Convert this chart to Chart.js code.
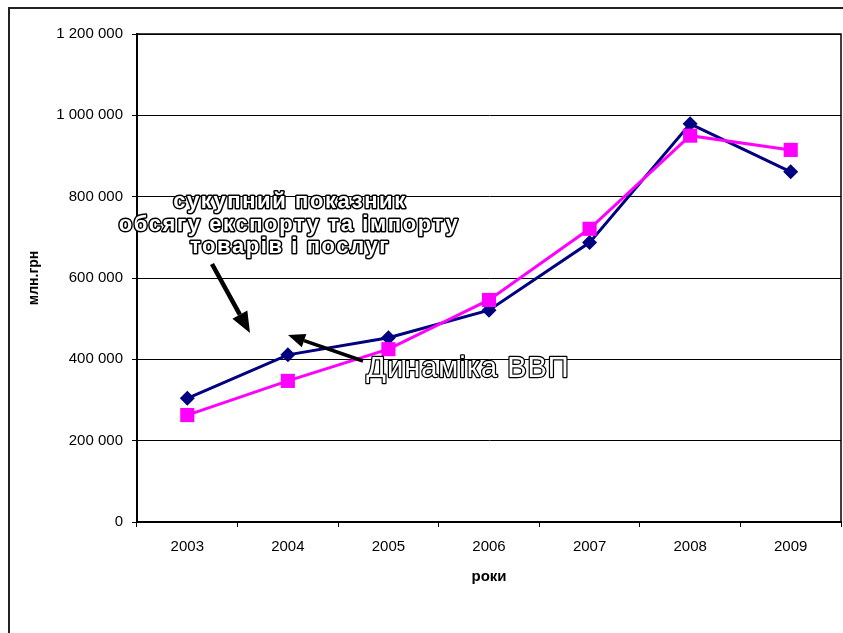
<!DOCTYPE html>
<html>
<head>
<meta charset="utf-8">
<script src="https://cdn.jsdelivr.net/npm/chart.js@4/dist/chart.umd.min.js"></script>
<style>
  html, body { margin: 0; padding: 0; background: #fff; }
  canvas { display: block; }
</style>
</head>
<body>
<canvas id="chart" width="843" height="633"></canvas>
<script>
var years = ['2003', '2004', '2005', '2006', '2007', '2008', '2009']
// navy diamonds
var gdpValues = [304000, 411000, 453000, 521000, 687000, 979000, 861000]
// magenta squares
var tradeValues = [263000, 347000, 425000, 546000, 721000, 950000, 915000]
var yTicks = [0, 200000, 400000, 600000, 800000, 1000000, 1200000]

var FONT = '"Liberation Sans", Arial, sans-serif'

function fmt(v) {
  return String(v).replace(/\B(?=(\d{3})+(?!\d))/g, ' ')
}

function arrow(ctx, x1, y1, x2, y2, lw, headLen, headW) {
  var ang = Math.atan2(y2 - y1, x2 - x1)
  var bx = x2 - Math.cos(ang) * headLen
  var by = y2 - Math.sin(ang) * headLen
  ctx.save()
  ctx.strokeStyle = '#000'
  ctx.fillStyle = '#000'
  ctx.lineWidth = lw
  ctx.beginPath()
  ctx.moveTo(x1, y1)
  ctx.lineTo(bx, by)
  ctx.stroke()
  ctx.beginPath()
  ctx.moveTo(x2, y2)
  ctx.lineTo(bx + Math.sin(ang) * headW / 2, by - Math.cos(ang) * headW / 2)
  ctx.lineTo(bx - Math.sin(ang) * headW / 2, by + Math.cos(ang) * headW / 2)
  ctx.closePath()
  ctx.fill()
  ctx.restore()
}

function outlined(ctx, text, x, y, font, lw, spacing) {
  ctx.save()
  ctx.font = font
  ctx.letterSpacing = spacing + 'px'
  ctx.textAlign = 'center'
  ctx.textBaseline = 'alphabetic'
  ctx.lineJoin = 'round'
  ctx.lineWidth = lw
  ctx.strokeStyle = '#000'
  ctx.strokeText(text, x, y)
  ctx.fillStyle = '#fff'
  ctx.fillText(text, x, y)
  ctx.restore()
}

var decorations = {
  id: 'decorations',
  afterDraw(chart) {
    var ctx = chart.ctx
    var a = chart.chartArea
    ctx.save()
    // outer frame
    ctx.strokeStyle = '#222'
    ctx.lineWidth = 2
    ctx.beginPath()
    ctx.moveTo(9, 633)
    ctx.lineTo(9, 8)
    ctx.lineTo(843, 8)
    ctx.stroke()
    // plot area top / right border
    ctx.strokeStyle = '#000'
    ctx.lineWidth = 1.5
    ctx.beginPath()
    ctx.moveTo(a.left, a.top)
    ctx.lineTo(a.right, a.top)
    ctx.lineTo(a.right, a.bottom)
    ctx.stroke()
    ctx.restore()

    arrow(ctx, 212, 264, 250, 333, 4.5, 21, 17)
    arrow(ctx, 363, 361, 288, 335, 3.5, 17, 14)

    var bold = 'bold 22px ' + FONT
    outlined(ctx, 'сукупний показник', 290, 208, bold, 3, 1.6)
    outlined(ctx, 'обсягу експорту та імпорту', 289, 231, bold, 3, 1.6)
    outlined(ctx, 'товарів і послуг', 290, 253, bold, 3, 1.6)
    outlined(ctx, 'Динаміка ВВП', 468, 377, '29px ' + FONT, 2.5, 1)
  }
}

new Chart(document.getElementById('chart'), {
  type: 'line',
  data: {
    labels: years,
    datasets: [
      {
        label: 'ВВП',
        data: gdpValues,
        borderColor: '#000080',
        backgroundColor: '#000080',
        borderWidth: 3,
        pointStyle: 'rectRot',
        pointRadius: 7.5,
        pointBorderWidth: 0,
        tension: 0,
        order: 1
      },
      {
        label: 'експорт та імпорт',
        data: tradeValues,
        borderColor: '#ff00ff',
        backgroundColor: '#ff00ff',
        borderWidth: 3,
        pointStyle: 'rect',
        pointRadius: 10,
        pointBorderWidth: 0,
        tension: 0,
        order: 0
      }
    ]
  },
  options: {
    responsive: false,
    animation: false,
    devicePixelRatio: 1,
    layout: { autoPadding: false, padding: { left: 20, top: 34, right: 2, bottom: 0 } },
    plugins: {
      legend: { display: false },
      tooltip: { enabled: false }
    },
    scales: {
      x: {
        offset: true,
        grid: {
          offset: true,
          drawOnChartArea: false,
          drawTicks: true,
          tickLength: 5,
          tickColor: '#000',
          tickWidth: 1
        },
        border: { color: '#000', width: 2 },
        ticks: {
          color: '#000',
          padding: 11,
          maxRotation: 0,
          font: { family: FONT, size: 15 }
        },
        title: {
          display: true,
          text: 'роки',
          color: '#000',
          font: { family: FONT, size: 15, weight: 'bold' },
          padding: { top: 0, bottom: 47 }
        },
        afterFit(scale) {
          scale.height = 111
          scale.paddingLeft = 0
          scale.paddingRight = 0
        }
      },
      y: {
        min: 0,
        max: 1200000,
        afterBuildTicks(scale) {
          scale.ticks = yTicks.map(function (v) { return { value: v } })
        },
        grid: {
          color: '#000',
          lineWidth: 1,
          tickLength: 5,
          tickColor: '#000'
        },
        border: { color: '#000', width: 2 },
        ticks: {
          color: '#000',
          padding: 9,
          font: { family: FONT, size: 15 },
          callback: function (v) { return fmt(v) }
        },
        title: {
          display: true,
          text: 'млн.грн',
          color: '#000',
          font: { family: FONT, size: 14, weight: 'bold' },
          padding: { top: 6, bottom: 0 }
        },
        afterFit(scale) { scale.width = 117 }
      }
    }
  },
  plugins: [decorations]
})
</script>
</body>
</html>
